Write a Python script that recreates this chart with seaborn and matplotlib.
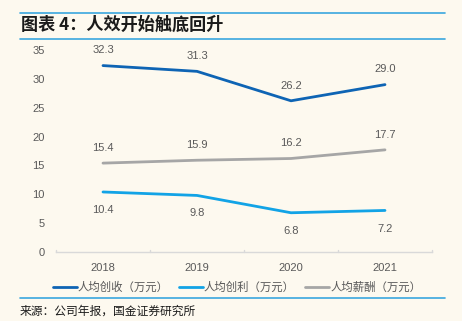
import matplotlib
matplotlib.use("Agg")
import matplotlib.pyplot as plt
import seaborn as sns
import pandas as pd
from matplotlib.lines import Line2D

years = ["2018", "2019", "2020", "2021"]
revenue = [32.3, 31.3, 26.2, 29.0]
profit = [10.4, 9.8, 6.8, 7.2]
salary = [15.4, 15.9, 16.2, 17.7]
series_names = ["人均创收（万元）", "人均创利（万元）", "人均薪酬（万元）"]
title = "图表 4：人效开始触底回升"
source = "来源：公司年报，国金证券研究所"

sns.set_theme(style="white")
plt.rcParams['font.family'] = ['Liberation Sans', 'Noto Sans CJK SC', 'DejaVu Sans']

bg = "#FDF9EF"
colors = ["#0E64B4", "#12A3E6", "#A6A6A6"]
txt = "#595959"

fig = plt.figure(figsize=(4.62, 3.21), dpi=100, facecolor=bg)
ax = fig.add_axes([56/462, 1-252/321, (432-56)/462, (252-50)/321])
ax.set_facecolor(bg)

rows = []
for name, vals in zip(series_names, [revenue, profit, salary]):
    for i, (y, v) in enumerate(zip(years, vals)):
        rows.append({"x": i, "year": y, "value": v, "series": name})
df = pd.DataFrame(rows)

sns.lineplot(data=df, x="x", y="value", hue="series", palette=colors,
             hue_order=series_names, ax=ax, linewidth=2, legend=False)

offsets = {series_names[0]: 11, series_names[1]: -13, series_names[2]: 11}
for name, vals in zip(series_names, [revenue, profit, salary]):
    for i, v in enumerate(vals):
        ax.annotate(f"{v:.1f}", (i, v), xytext=(0, offsets[name]), textcoords="offset points",
                    ha="center", va="center", fontsize=8, color=txt)

ax.set_xlim(-0.5, 3.5)
ax.set_ylim(0, 35)
ax.set_yticks(range(0, 36, 5))
ax.set_xticks(range(4))
ax.set_xticklabels(years)
ax.set_xlabel("")
ax.set_ylabel("")
ax.tick_params(axis="both", labelsize=8, colors=txt, length=0, pad=8)
for s in ["top", "right", "left"]:
    ax.spines[s].set_visible(False)
ax.spines["bottom"].set_color("#D9D9D9")
ax.spines["bottom"].set_linewidth(1)
for xb in [-0.5, 0.5, 1.5, 2.5, 3.5]:
    ax.plot([xb, xb], [0, 0.35], color="#D9D9D9", lw=1, clip_on=False)

handles = [Line2D([0], [0], color=c, lw=2) for c in colors]
fig.legend(handles, series_names, loc="center", bbox_to_anchor=(237/462, 1-287/321),
           ncol=3, frameon=False, handlelength=2.1, handletextpad=0.1,
           columnspacing=0.9, labelcolor=txt,
           prop={'family': ['Noto Sans CJK SC', 'DejaVu Sans'], 'size': 8.2})

line_c = "#3AA7DF"
fig.add_artist(Line2D([20/462, 445/462], [1-13/321, 1-13/321], color=line_c, lw=1.2))
fig.add_artist(Line2D([20/462, 445/462], [1-39/321, 1-39/321], color=line_c, lw=1.2))
fig.add_artist(Line2D([20/462, 445/462], [1-298/321, 1-298/321], color=line_c, lw=1.2))

fig.text(21/462, 1-25/321, title, fontsize=12.3, fontweight="bold", color="#1a1a1a",
         ha="left", va="center", family=['Noto Sans CJK SC', 'DejaVu Sans'], style="italic")
fig.text(20/462, 1-311/321, source, fontsize=8.5, color="#1a1a1a",
         ha="left", va="center", family=['Noto Sans CJK SC', 'DejaVu Sans'])

fig.savefig("out.png", dpi=100, facecolor=bg)
